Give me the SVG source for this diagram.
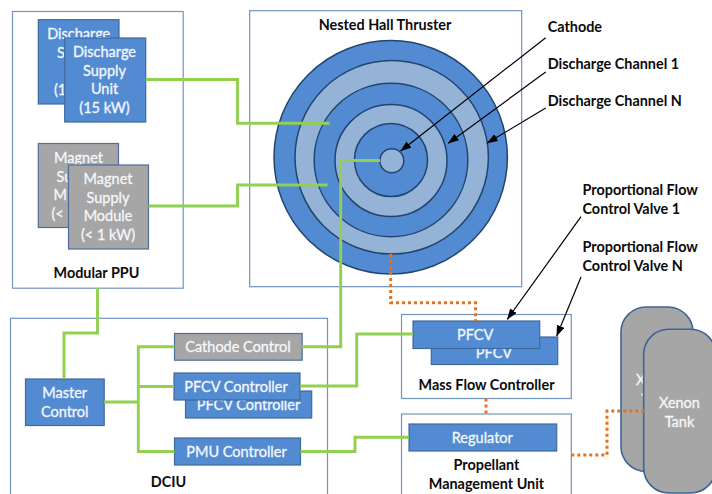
<svg xmlns="http://www.w3.org/2000/svg" width="712" height="494" viewBox="0 0 712 494">
<defs>
<marker id="ah" viewBox="0 0 11 8" refX="10.5" refY="4" markerWidth="11" markerHeight="8" markerUnits="userSpaceOnUse" orient="auto"><path d="M0 0L11 4L0 8Z" fill="#000"/></marker>
</defs>
<style>
text{font-family:Lato,"Liberation Sans",sans-serif;font-size:14.5px;text-anchor:middle}
.w{fill:#f4f7fb;stroke:#f4f7fb;stroke-width:.3}
.k{fill:#0b0b0b;font-weight:700;font-size:14.4px}
.l{text-anchor:start}
.frame{fill:#fff;stroke:#7394bd;stroke-width:1.2}
.b{fill:#538bd3;stroke:#3f6a9c;stroke-width:1.2}
.g{fill:#a6a6a6;stroke:#4d6f9a;stroke-width:1.2}
.t{fill:#a6a6a6;stroke:#3c6494;stroke-width:1.6}
.d{fill:#538bd3;stroke:#21456f;stroke-width:1.5}
.r{fill:#95b3d7;stroke:#21456f;stroke-width:1.5}
.gr{fill:none;stroke:#92d050;stroke-width:2.9}
.or{fill:none;stroke:#e8711c;stroke-width:3;stroke-dasharray:3 3}
.ar{fill:none;stroke:#000;stroke-width:1.2;marker-end:url(#ah)}
</style>
<g id="modular-ppu"><rect class="frame" x="12.5" y="11.5" width="170.7" height="276.7"/><text class="k" x="96.5" y="278">Modular PPU</text></g>
<g id="discharge-supply-back"><rect class="b" x="38.3" y="19.7" width="80.7" height="84.3"/><text class="w" x="78.7" y="39">Discharge</text><text class="w l" x="57" y="58">S</text><text class="w l" x="54" y="95">(1</text></g>
<g id="discharge-supply-front"><rect class="b" x="64.7" y="38" width="81" height="84"/><text class="w" x="104.5" y="57">Discharge</text><text class="w" x="104.5" y="76">Supply</text><text class="w" x="104.5" y="94">Unit</text><text class="w" x="104.5" y="113">(15 kW)</text></g>
<g id="magnet-supply-back"><rect class="g" x="38.3" y="143.5" width="80.2" height="84"/><text class="w" x="78.5" y="163">Magnet</text><text class="w l" x="56.5" y="182">Su</text><text class="w l" x="53.5" y="200">M</text><text class="w l" x="51.5" y="219">(&lt;</text></g>
<g id="magnet-supply-front"><rect class="g" x="68.5" y="165" width="80" height="84"/><text class="w" x="108" y="184">Magnet</text><text class="w" x="108" y="203">Supply</text><text class="w" x="108" y="221">Module</text><text class="w" x="108" y="240">(&lt; 1 kW)</text></g>
<g id="nested-hall-thruster"><rect class="frame" x="249.7" y="10.7" width="272" height="276"/><text class="k" x="385" y="30">Nested Hall Thruster</text>
<circle class="d" cx="390.7" cy="157.3" r="116.7"/><circle class="r" cx="391.7" cy="157.3" r="96.7"/><circle class="d" cx="391" cy="160" r="76.8"/><circle class="r" cx="391" cy="160.5" r="56"/><circle class="d" cx="391" cy="160" r="36.6"/><circle class="r" cx="391.8" cy="160.7" r="12"/></g>
<g id="dciu"><rect class="frame" x="10.5" y="318.3" width="317" height="180"/><text class="k" x="168.5" y="487">DCIU</text></g>
<g id="master-control"><rect class="b" x="25.5" y="379" width="78.7" height="46.5"/><text class="w" x="64.7" y="398">Master</text><text class="w" x="64.7" y="417">Control</text></g>
<g id="cathode-control"><rect class="g" x="174.5" y="333.5" width="127.7" height="26.7"/><text class="w" x="238" y="352">Cathode Control</text></g>
<g id="pfcv-controller-back"><rect class="b" x="185.5" y="391" width="126.2" height="27"/><text class="w" x="248.5" y="410">PFCV Controller</text></g>
<g id="pfcv-controller-front"><rect class="b" x="174" y="373" width="126" height="27"/><text class="w" x="236" y="392">PFCV Controller</text></g>
<g id="pmu-controller"><rect class="b" x="174.5" y="438" width="126" height="27"/><text class="w" x="236.5" y="457">PMU Controller</text></g>
<g id="mass-flow-controller"><rect class="frame" x="401.5" y="314.5" width="169.8" height="84"/><text class="k" x="486.5" y="390">Mass Flow Controller</text></g>
<g id="pfcv-back"><rect class="b" x="431.3" y="337" width="126.4" height="27.5"/><text class="w" x="494" y="358">PFCV</text></g>
<g id="pfcv-front"><rect class="b" x="413" y="321" width="126.7" height="27.5"/><text class="w" x="475.2" y="340">PFCV</text></g>
<g id="propellant-management-unit"><rect class="frame" x="401.5" y="414" width="169.8" height="90"/><text class="k" x="486.5" y="470">Propellant</text><text class="k" x="486.5" y="489">Management Unit</text></g>
<g id="regulator"><rect class="b" x="409" y="424" width="147.7" height="27"/><text class="w" x="482.3" y="443">Regulator</text></g>
<g id="xenon-tank-back"><rect class="t" x="621" y="307" width="72" height="164.5" rx="25"/><text class="w l" x="636" y="385">X</text><text class="w l" x="641.5" y="405">T</text></g>
<g id="xenon-tank-front"><rect class="t" x="643.7" y="329.3" width="72" height="163.7" rx="25"/><text class="w" x="679.5" y="408">Xenon</text><text class="w" x="679.5" y="427">Tank</text></g>
<g id="connectors">
<path class="gr" d="M145.7 79.5H237.5V123.3H329.5"/>
<path class="gr" d="M148.5 206H237.5V185H327.5"/>
<path class="gr" d="M380 160.5H340.7V346.7H302"/>
<path class="gr" d="M97.5 288V333H64V379"/>
<path class="gr" d="M104 402H138"/>
<path class="gr" d="M174.5 346.7H138.3V451.5H174.5"/>
<path class="gr" d="M138.3 386.5H174"/>
<path class="gr" d="M300 386H356.7V334H413"/>
<path class="gr" d="M300.5 451.5H355V437.3H409"/>
<path class="or" d="M390.7 254V302.7H475.5V321"/>
<path class="or" d="M486 398.5V414"/>
<path class="or" d="M571.3 455H607V411H644"/>
<path class="ar" d="M545.7 37.7L400.7 151"/>
<path class="ar" d="M545.7 72L448.3 143.3"/>
<path class="ar" d="M545.7 108L487.3 143"/>
<path class="ar" d="M581 216.7L507.3 319.3"/>
<path class="ar" d="M581 277L556.7 336"/>
</g>
<g id="labels">
<text class="k l" x="547.7" y="32">Cathode</text>
<text class="k l" x="547.7" y="68.5">Discharge Channel 1</text>
<text class="k l" x="547.7" y="106">Discharge Channel N</text>
<text class="k l" x="582.5" y="195">Proportional Flow</text>
<text class="k l" x="582.5" y="214">Control Valve 1</text>
<text class="k l" x="582.5" y="251.5">Proportional Flow</text>
<text class="k l" x="582.5" y="270.5">Control Valve N</text>
</g>
</svg>
